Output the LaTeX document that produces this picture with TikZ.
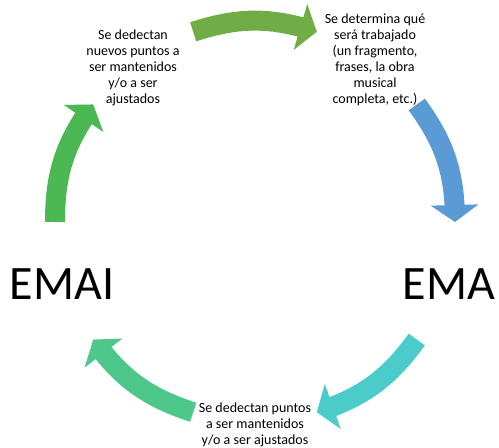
\documentclass[tikz,border=0pt]{standalone}
\usepackage{fontspec}
\setmainfont{Carlito}
\usetikzlibrary{arrows.meta,bending}
\definecolor{verdeizq}{HTML}{4BB853}
\definecolor{verdeolivo}{HTML}{70AD47}
\definecolor{azul}{HTML}{5B9BD5}
\definecolor{turquesa}{HTML}{4CCBCB}
\definecolor{verdemar}{HTML}{4DC78A}
\begin{document}
\begin{tikzpicture}[
  x = 1pt, y = 1pt,
  paso/.style={align=center, font=\fontsize{14}{16}\selectfont},
  etapa/.style={font=\fontsize{48}{56}\selectfont},
  ciclo/.style={line width=20pt, -{Triangle[width=47pt,length=17pt]}, bend left=18}]
\useasboundingbox (-255,-226) rectangle (244,222);
\node[paso] (nuevos) at (-122,154) {Se dedectan\\nuevos puntos a\\ser mantenidos\\y/o a ser\\ajustados};
\node[paso] (trabajo) at (120,162) {Se determina qué\\será trabajado\\(un fragmento,\\frases, la obra\\musical\\completa, etc.)};
\node[paso] (puntos) at (0,-203) {Se dedectan puntos\\a ser mantenidos\\y/o a ser ajustados};
\node[etapa] (emai) at (-193,-62) {EMAI};
\node[etapa] (ema) at (194,-62) {EMA};
% puntos del ciclo
\foreach \n/\a in {1/180,2/108,3/36,4/-36,5/-108} {
  \coordinate (s\n) at (\a:200);
  \coordinate (e\n) at (\a-36:200);
}
\draw[ciclo, verdeizq] (s1) to (e1);
\draw[ciclo, verdeolivo] (s2) to (e2);
\draw[ciclo, azul] (s3) to (e3);
\draw[ciclo, turquesa] (s4) to (e4);
\draw[ciclo, verdemar] (s5) to (e5);
\end{tikzpicture}
\end{document}
